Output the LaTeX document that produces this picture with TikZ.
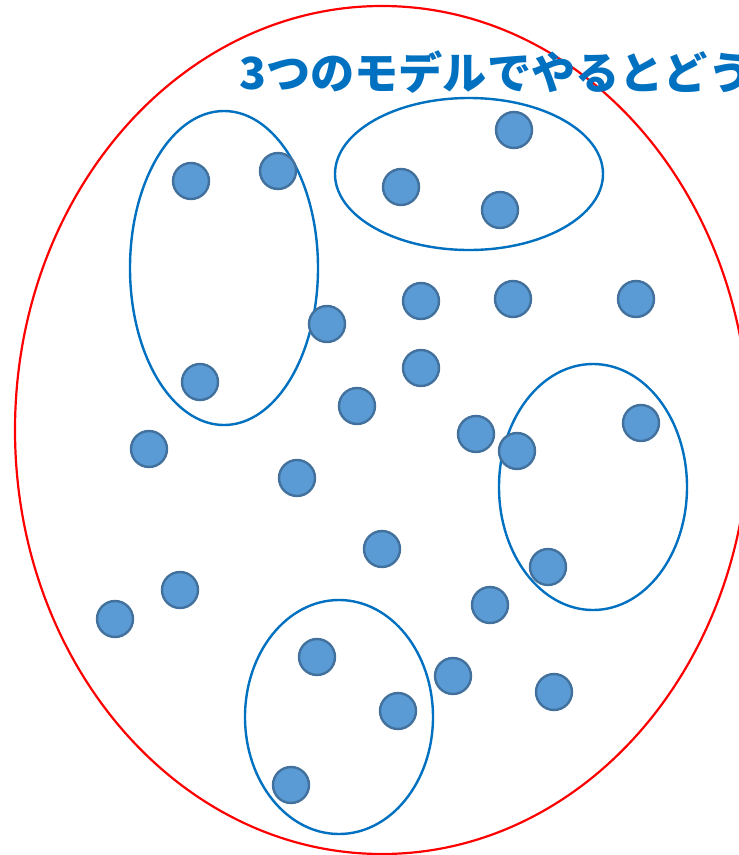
\documentclass[tikz,border=0pt]{standalone}
\usepackage{fontspec}
\newfontfamily\cjk{Noto Sans CJK JP}
\definecolor{redline}{HTML}{FF0000}
\definecolor{grpblue}{HTML}{0070C0}
\definecolor{dotfill}{HTML}{5B9BD5}
\definecolor{dotedge}{HTML}{41719C}
\tikzset{
  dot/.style={circle, fill=dotfill, draw=dotedge, line width=2.4pt, minimum size=36pt, inner sep=0pt},
  grp/.style={draw=grpblue, line width=2.4pt},
  outer/.style={draw=redline, line width=2.2pt},
}
\begin{document}
\begin{tikzpicture}[x=1pt,y=-1pt]
\clip (0,0) rectangle (739,855);
\useasboundingbox (0,0) rectangle (739,855);
\fill[white] (0,0) rectangle (739,855);
\draw[outer] (382,430) ellipse [x radius=367pt, y radius=424pt];
\node[anchor=base west, text=grpblue, inner sep=0pt, font=\cjk\bfseries\fontsize{44.2}{50}\selectfont] (title) at (239,89) {3つのモデルでやるとどう};
\draw[grp] (224,268) ellipse [x radius=94pt, y radius=157pt];
\draw[grp] (469,174) ellipse [x radius=134pt, y radius=76pt];
\draw[grp] (593,487) ellipse [x radius=94pt, y radius=123pt];
\draw[grp] (339,717) ellipse [x radius=94pt, y radius=117pt];
\node[dot] (d1) at (191,181) {};
\node[dot] (d2) at (278,171) {};
\node[dot] (d3) at (401,187) {};
\node[dot] (d4) at (514,130) {};
\node[dot] (d5) at (500,210) {};
\node[dot] (d6) at (327,324) {};
\node[dot] (d7) at (421,301) {};
\node[dot] (d8) at (513,299) {};
\node[dot] (d9) at (636,299) {};
\node[dot] (d10) at (200,382) {};
\node[dot] (d11) at (421,368) {};
\node[dot] (d12) at (357,406) {};
\node[dot] (d13) at (149,449) {};
\node[dot] (d14) at (476,434) {};
\node[dot] (d15) at (517,451) {};
\node[dot] (d16) at (641,423) {};
\node[dot] (d17) at (297,478) {};
\node[dot] (d18) at (382,549) {};
\node[dot] (d19) at (548,567) {};
\node[dot] (d20) at (180,590) {};
\node[dot] (d21) at (115,619) {};
\node[dot] (d22) at (490,605) {};
\node[dot] (d23) at (317,657) {};
\node[dot] (d24) at (453,676) {};
\node[dot] (d25) at (554,692) {};
\node[dot] (d26) at (398,711) {};
\node[dot] (d27) at (291,785) {};
\end{tikzpicture}
\end{document}
